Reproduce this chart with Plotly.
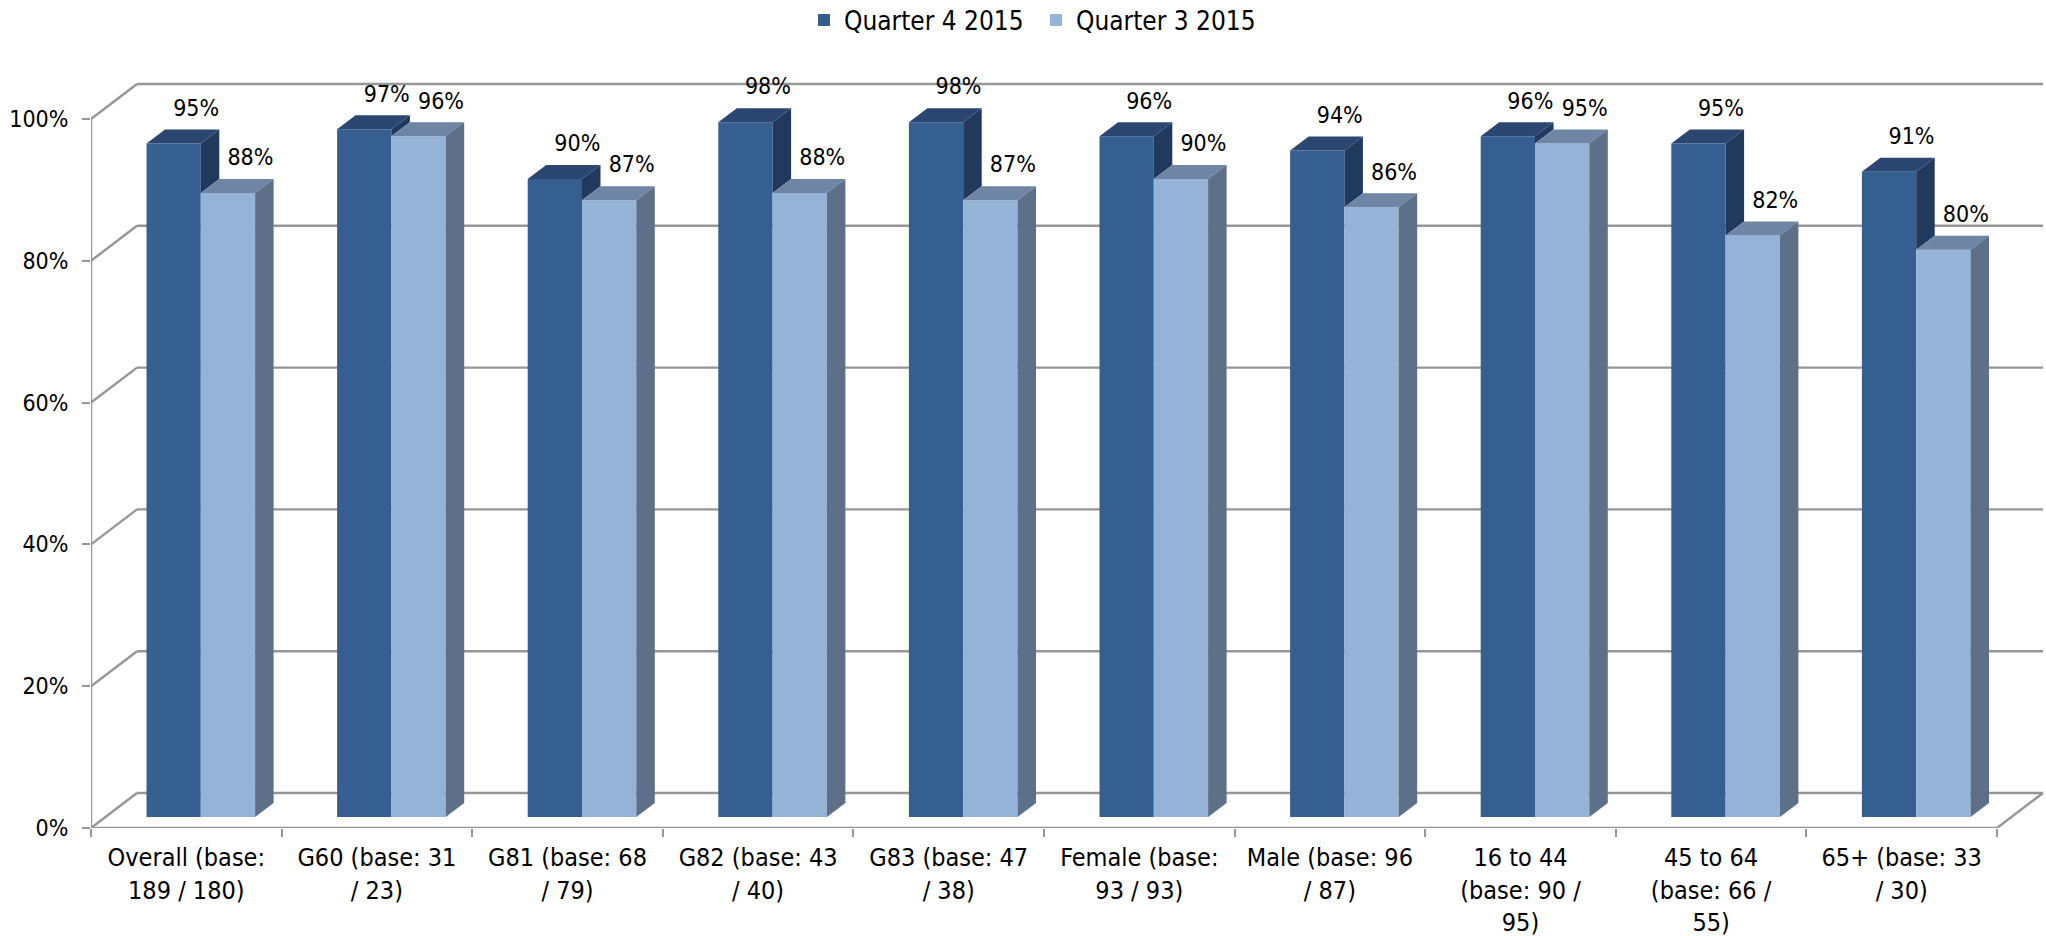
import plotly.graph_objects as go

categories = ["Overall (base:<br>189 / 180)", "G60 (base: 31<br>/ 23)", "G81 (base: 68<br>/ 79)",
              "G82 (base: 43<br>/ 40)", "G83 (base: 47<br>/ 38)", "Female (base:<br>93 / 93)",
              "Male (base: 96<br>/ 87)", "16 to 44<br>(base: 90 /<br>95)", "45 to 64<br>(base: 66 /<br>55)",
              "65+ (base: 33<br>/ 30)"]
q4_2015 = [95, 97, 90, 98, 98, 96, 94, 96, 95, 91]
q3_2015 = [88, 96, 87, 88, 87, 90, 86, 95, 82, 80]
y_ticks = [0, 20, 40, 60, 80, 100]

W, H = 2046, 936
L, R, T, B = 91, 0, 60, 108
PX_X = 190.6
PX_Y = 7.09
FONT = "DejaVu Sans Condensed"
GRID = "#969696"
DARK, DARK_TOP, DARK_SIDE = "#365F91", "#2B4670", "#21395C"
LIGHT, LIGHT_TOP, LIGHT_SIDE = "#95B3D7", "#6F85A5", "#5E7087"

WALL_X, WALL_Y = 46 / PX_X, 35 / PX_Y          # depth of the chart box
BAR0_X, BAR0_Y = 14.5 / PX_X, 11 / PX_Y        # front plane of the bars
DEPTH_X, DEPTH_Y = 18.5 / PX_X, 14 / PX_Y      # depth of one bar
BAR_W = 54.3 / PX_X
n = len(categories)
xmax = (W - L - R) / PX_X
ymax = (H - B - T) / PX_Y
centers = [i + 0.5 for i in range(n)]
left_edge = [c + BAR0_X - BAR_W for c in centers]
mid_edge = [c + BAR0_X for c in centers]
right_edge = [c + BAR0_X + BAR_W for c in centers]


def polys(rows):
    xs, ys = [], []
    for row in rows:
        xs += [p[0] for p in row] + [row[0][0], None]
        ys += [p[1] for p in row] + [row[0][1], None]
    return xs, ys


fig = go.Figure()
fig.add_bar(x=centers, y=q4_2015, base=BAR0_Y, offset=BAR0_X - BAR_W, width=BAR_W, marker_color=DARK,
            marker_line_width=0, name="Quarter 4 2015", hoverinfo="skip")
fig.add_bar(x=centers, y=q3_2015, base=BAR0_Y, offset=BAR0_X, width=BAR_W, marker_color=LIGHT,
            marker_line_width=0, name="Quarter 3 2015", hoverinfo="skip")


def face(rows, color):
    xs, ys = polys(rows)
    fig.add_scatter(x=xs, y=ys, mode="lines", fill="toself", fillcolor=color, line=dict(width=0, color=color),
                    showlegend=False, hoverinfo="skip")


face([[(m, a + BAR0_Y), (m + DEPTH_X, a + BAR0_Y + DEPTH_Y), (m + DEPTH_X, b + BAR0_Y + DEPTH_Y), (m, b + BAR0_Y)]
      for m, a, b in zip(mid_edge, q4_2015, q3_2015)], DARK_SIDE)
face([[(l, a + BAR0_Y), (m, a + BAR0_Y), (m + DEPTH_X, a + BAR0_Y + DEPTH_Y), (l + DEPTH_X, a + BAR0_Y + DEPTH_Y)]
      for l, m, a in zip(left_edge, mid_edge, q4_2015)], DARK_TOP)
face([[(m, b + BAR0_Y), (r, b + BAR0_Y), (r + DEPTH_X, b + BAR0_Y + DEPTH_Y), (m + DEPTH_X, b + BAR0_Y + DEPTH_Y)]
      for m, r, b in zip(mid_edge, right_edge, q3_2015)], LIGHT_TOP)
face([[(r, BAR0_Y), (r + DEPTH_X, BAR0_Y + DEPTH_Y), (r + DEPTH_X, b + BAR0_Y + DEPTH_Y), (r, b + BAR0_Y)]
      for r, b in zip(right_edge, q3_2015)], LIGHT_SIDE)

# front edges of the chart box
fig.add_scatter(x=[0, 0, None, 0, n, n + WALL_X], y=[y_ticks[-1], 0, None, 0, 0, WALL_Y], mode="lines",
                line=dict(color=GRID, width=2.4), cliponaxis=False, showlegend=False, hoverinfo="skip")

# value labels
label_x = [m - BAR_W / 2 + 22.5 / PX_X for m in mid_edge] + [m + BAR_W / 2 + 22.5 / PX_X for m in mid_edge]
label_y = [v + BAR0_Y + DEPTH_Y + 19.5 / PX_Y for v in q4_2015 + q3_2015]
label_t = [f"{v}%" for v in q4_2015 + q3_2015]
fig.add_scatter(x=label_x, y=label_y, text=label_t, mode="text", textposition="middle center",
                textfont=dict(family=FONT, size=23, color="#000000"), cliponaxis=False,
                showlegend=False, hoverinfo="skip")

# back wall grid lines and side wall lines
for v in y_ticks:
    fig.add_shape(type="line", layer="below", x0=0, y0=v, x1=WALL_X, y1=v + WALL_Y,
                  line=dict(color=GRID, width=2.4))
    fig.add_shape(type="line", layer="below", x0=WALL_X, y0=v + WALL_Y, x1=n + WALL_X, y1=v + WALL_Y,
                  line=dict(color=GRID, width=2.4))

fig.update_layout(
    width=W, height=H, margin=dict(l=L, r=R, t=T, b=B, pad=0, autoexpand=False),
    paper_bgcolor="white", plot_bgcolor="white", barmode="overlay",
    font=dict(family=FONT, size=23, color="#000000"),
    legend=dict(orientation="h", x=(804 - L) / (W - L), xanchor="left", y=1 + 40 / (H - T - B), yanchor="middle",
                font=dict(family=FONT, size=26), entrywidth=187, entrywidthmode="pixels",
                bgcolor="rgba(0,0,0,0)"),
    xaxis=dict(range=[0, xmax], tickmode="array", tickvals=centers, ticktext=categories, ticklen=0,
               showgrid=False, zeroline=False, showline=False, tickangle=0, automargin=False,
               ticklabelstandoff=12,
               minor=dict(tickmode="array", tickvals=list(range(n + 1)), ticks="outside", ticklen=8,
                          tickcolor=GRID, tickwidth=2, showgrid=False),
               tickfont=dict(family=FONT, size=25, color="#000000")),
    yaxis=dict(range=[0, ymax], tickmode="array", tickvals=y_ticks, ticktext=[f"{v}%" for v in y_ticks],
               ticks="outside", ticklen=8, tickcolor=GRID, tickwidth=2, showgrid=False, zeroline=False,
               showline=False, automargin=False, ticklabelstandoff=9,
               tickfont=dict(family=FONT, size=23, color="#000000")),
)

fig.write_html("out.html", post_script="document.body.style.margin='0';", config={"displayModeBar": False})
